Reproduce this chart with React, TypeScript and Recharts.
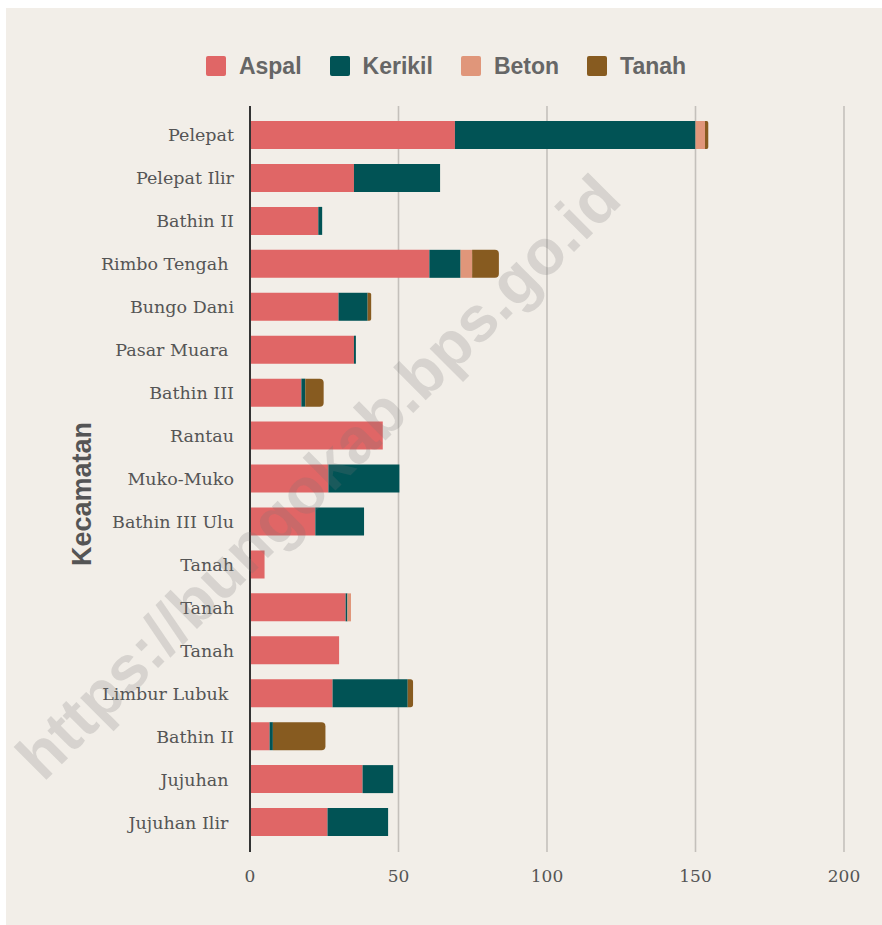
import React from 'react';
import { BarChart, Bar, XAxis, YAxis, CartesianGrid, Legend } from 'recharts';

const kecamatan = [
  'Pelepat', 'Pelepat Ilir', 'Bathin II', 'Rimbo Tengah ', 'Bungo Dani', 'Pasar Muara ',
  'Bathin III', 'Rantau', 'Muko-Muko', 'Bathin III Ulu', 'Tanah', 'Tanah', 'Tanah',
  'Limbur Lubuk ', 'Bathin II', 'Jujuhan ', 'Jujuhan Ilir ',
];
const aspal = [69, 35, 23, 60.4, 29.8, 35, 17.3, 44.7, 26.4, 22, 4.9, 32.2, 30, 27.8, 6.6, 37.9, 26.1];
const kerikil = [81, 29, 1.3, 10.5, 9.8, 0.65, 1.3, 0, 23.9, 16.4, 0, 0.6, 0, 25.3, 1.1, 10.3, 20.4];
const beton = [3.2, 0, 0, 3.9, 0, 0, 0, 0, 0, 0, 0, 1.2, 0, 0, 0, 0, 0];
const tanah = [1.1, 0, 0, 9, 1.2, 0, 6.2, 0, 0, 0, 0, 0, 0, 1.8, 17.7, 0, 0];
const xTicks = [0, 50, 100, 150, 200];

const SERIES = [
  { key: 'aspal', name: 'Aspal', color: '#e06666' },
  { key: 'kerikil', name: 'Kerikil', color: '#015355' },
  { key: 'beton', name: 'Beton', color: '#e0967a' },
  { key: 'tanah', name: 'Tanah', color: '#875b20' },
];

const data = kecamatan.map((name, i) => ({
  key: String(i),
  aspal: aspal[i],
  kerikil: kerikil[i],
  beton: beton[i],
  tanah: tanah[i],
}));

const SERIF = '"DejaVu Serif", "Liberation Serif", serif';
const SANS = '"Liberation Sans", Arial, sans-serif';

const YTick = (props: any) => {
  const { x, y, payload } = props;
  return (
    <text x={x} y={y} dy={6} textAnchor="end" fill="#555" fontSize={17.5} fontFamily={SERIF} style={{ whiteSpace: 'pre' }}>
      {kecamatan[payload.index]}
    </text>
  );
};

const renderLegend = () => (
  <div style={{ display: 'flex', justifyContent: 'center', alignItems: 'center', gap: 28, height: 22, paddingLeft: 4 }}>
    {SERIES.map(s => (
      <div key={s.key} style={{ display: 'flex', alignItems: 'center' }}>
        <span style={{ width: 20, height: 20, background: s.color, borderRadius: 2, marginRight: 13, display: 'inline-block' }} />
        <span style={{ fontFamily: SANS, fontWeight: 'bold', fontSize: 23, color: '#666', lineHeight: '22px' }}>{s.name}</span>
      </div>
    ))}
  </div>
);

const App: React.FC = () => {
  return (
    <div style={{ position: 'absolute', left: 6, top: 8, width: 876, height: 917, background: '#f2eee8' }}>
      <BarChart
        width={876}
        height={917}
        data={data}
        layout="vertical"
        barSize={28}
        margin={{ top: 76, right: 38, bottom: 33, left: 0 }}
      >
        <CartesianGrid horizontal={false} stroke="#c4c0bb" strokeWidth={1.6} />
        <XAxis
          type="number"
          domain={[0, 200]}
          ticks={xTicks}
          axisLine={false}
          tickLine={false}
          tickSize={0}
          tickMargin={18}
          height={40}
          tick={{ fill: '#555', fontSize: 17, fontFamily: SERIF }}
        />
        <YAxis
          type="category"
          dataKey="key"
          width={244}
          padding={{ top: 8, bottom: 8 }}
          axisLine={{ stroke: '#333', strokeWidth: 2 }}
          tickLine={false}
          tickSize={0}
          tickMargin={16}
          tick={<YTick />}
          label={({ viewBox }: any) => (
            <text
              x={76}
              y={viewBox.y + viewBox.height / 2 + 15}
              transform={`rotate(-90, 76, ${viewBox.y + viewBox.height / 2 + 15})`}
              textAnchor="middle"
              dominantBaseline="central"
              fill="#555"
              fontSize={27}
              fontWeight="bold"
              fontFamily={SANS}
            >
              Kecamatan
            </text>
          )}
        />
        <Legend verticalAlign="top" align="center" wrapperStyle={{ top: 47, left: 0, width: 876 }} content={renderLegend} />
        {SERIES.map(s => (
          <Bar
            key={s.key}
            dataKey={s.key}
            name={s.name}
            stackId="a"
            fill={s.color}
            radius={s.key === 'tanah' ? [0, 4, 4, 0] : 0}
            isAnimationActive={false}
          />
        ))}
      </BarChart>
      <div
        style={{
          position: 'absolute',
          left: 312,
          top: 469,
          transform: 'translate(-50%, -50%) rotate(-45deg)',
          whiteSpace: 'nowrap',
          fontFamily: SANS,
          fontWeight: 'bold',
          fontSize: 64,
          color: 'rgba(120,120,120,0.22)',
          pointerEvents: 'none',
        }}
      >
        https://bungokab.bps.go.id
      </div>
    </div>
  );
};

export default App;
